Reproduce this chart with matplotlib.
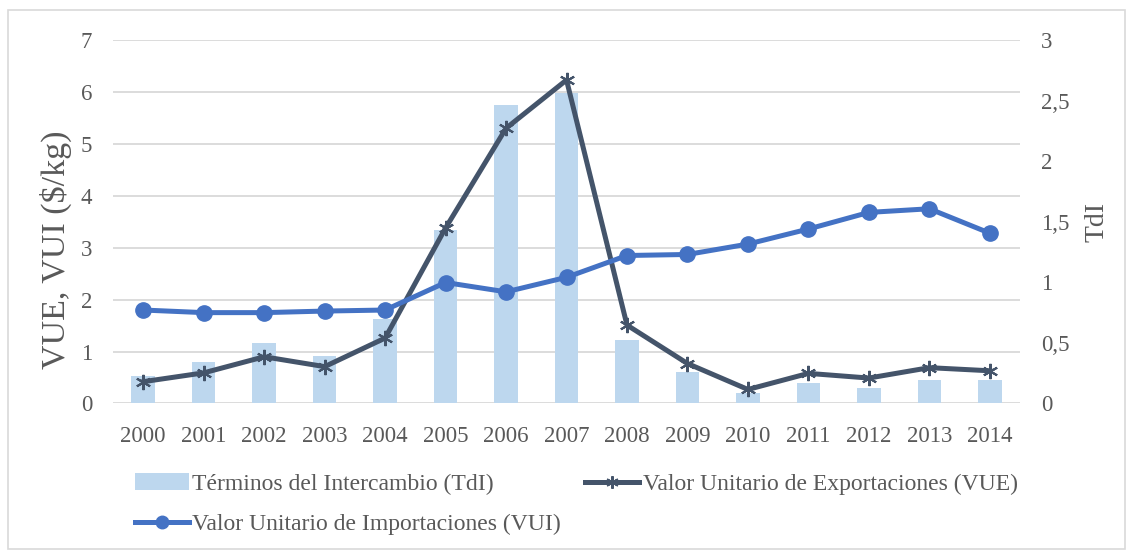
import matplotlib.pyplot as plt
from matplotlib.patches import Rectangle
from matplotlib.ticker import FuncFormatter

years = ['2000', '2001', '2002', '2003', '2004', '2005', '2006', '2007',
         '2008', '2009', '2010', '2011', '2012', '2013', '2014']
tdi = [0.23, 0.34, 0.50, 0.39, 0.70, 1.43, 2.46, 2.56,
       0.52, 0.26, 0.09, 0.17, 0.13, 0.19, 0.19]
vue = [0.42, 0.59, 0.90, 0.71, 1.26, 3.38, 5.30, 6.23,
       1.51, 0.77, 0.27, 0.58, 0.49, 0.69, 0.63]
vui = [1.80, 1.75, 1.75, 1.78, 1.80, 2.33, 2.15, 2.43,
       2.85, 2.87, 3.07, 3.36, 3.68, 3.75, 3.28]

plt.rcParams['font.family'] = ['Liberation Serif', 'DejaVu Serif']
txt = '#595959'
grid = '#d9d9d9'

fig = plt.figure(figsize=(11.31, 5.51), dpi=100)
ax = fig.add_axes([0.0999, 0.2677, 0.802, 0.6597])
ax2 = ax.twinx()

x = list(range(len(years)))

# bars on the right axis, behind the lines
bars = ax2.bar(x, tdi, width=0.39, color='#BDD7EE', zorder=1, label='Términos del Intercambio (TdI)')
ax2.set_ylim(0, 3)
ax2.set_yticks([0, 0.5, 1, 1.5, 2, 2.5, 3])
ax2.yaxis.set_major_formatter(FuncFormatter(lambda v, p: ('%g' % v).replace('.', ',')))

ax.set_zorder(ax2.get_zorder() + 1)
ax.patch.set_visible(False)

l_vue, = ax.plot(x, vue, color='#44546A', lw=3.6, marker=(6, 2, 0), ms=11, mew=1.5,
                 label='Valor Unitario de Exportaciones (VUE)', zorder=3)
l_vui, = ax.plot(x, vui, color='#4472C4', lw=3.6, marker='o', ms=11,
                 label='Valor Unitario de Importaciones (VUI)', zorder=3)

ax.set_ylim(0, 7)
ax.set_yticks(range(0, 8))
ax.set_xlim(-0.5, len(years) - 0.5)
ax.set_xticks(x)
ax.set_xticklabels(years)

for v in range(0, 8):
    ax2.axhline(v * 3 / 7, color=grid, lw=1.3, zorder=0)

for a in (ax, ax2):
    for s in a.spines.values():
        s.set_visible(False)
    a.tick_params(length=0, labelsize=16.5, colors=txt)
ax.tick_params(axis='y', pad=15)
ax2.tick_params(axis='y', pad=15)
ax.tick_params(axis='x', pad=16)

ax.set_ylabel('VUE, VUI ($/kg)', fontsize=24.5, color=txt)
ax.yaxis.set_label_coords(-0.045, 0.422)
ax2.set_ylabel('TdI', fontsize=20, color=txt, rotation=90)
ax2.yaxis.set_label_coords(1.071, 0.5)

leg = fig.legend(handles=[bars, l_vui, l_vue], ncol=2, loc='center left',
                 bbox_to_anchor=(0.119, 0.085), frameon=False, fontsize=17,
                 labelcolor=txt, handlelength=2.3, handletextpad=0.15,
                 columnspacing=1.0, labelspacing=0.78, borderaxespad=0, borderpad=0)
for h in leg.legend_handles:
    if hasattr(h, 'set_markersize'):
        h.set_markersize(9)

fig.add_artist(Rectangle((0.007, 0.003), 0.988, 0.978, transform=fig.transFigure,
                         fill=False, edgecolor=grid, lw=1.2))

fig.savefig('out.png', dpi=100)
